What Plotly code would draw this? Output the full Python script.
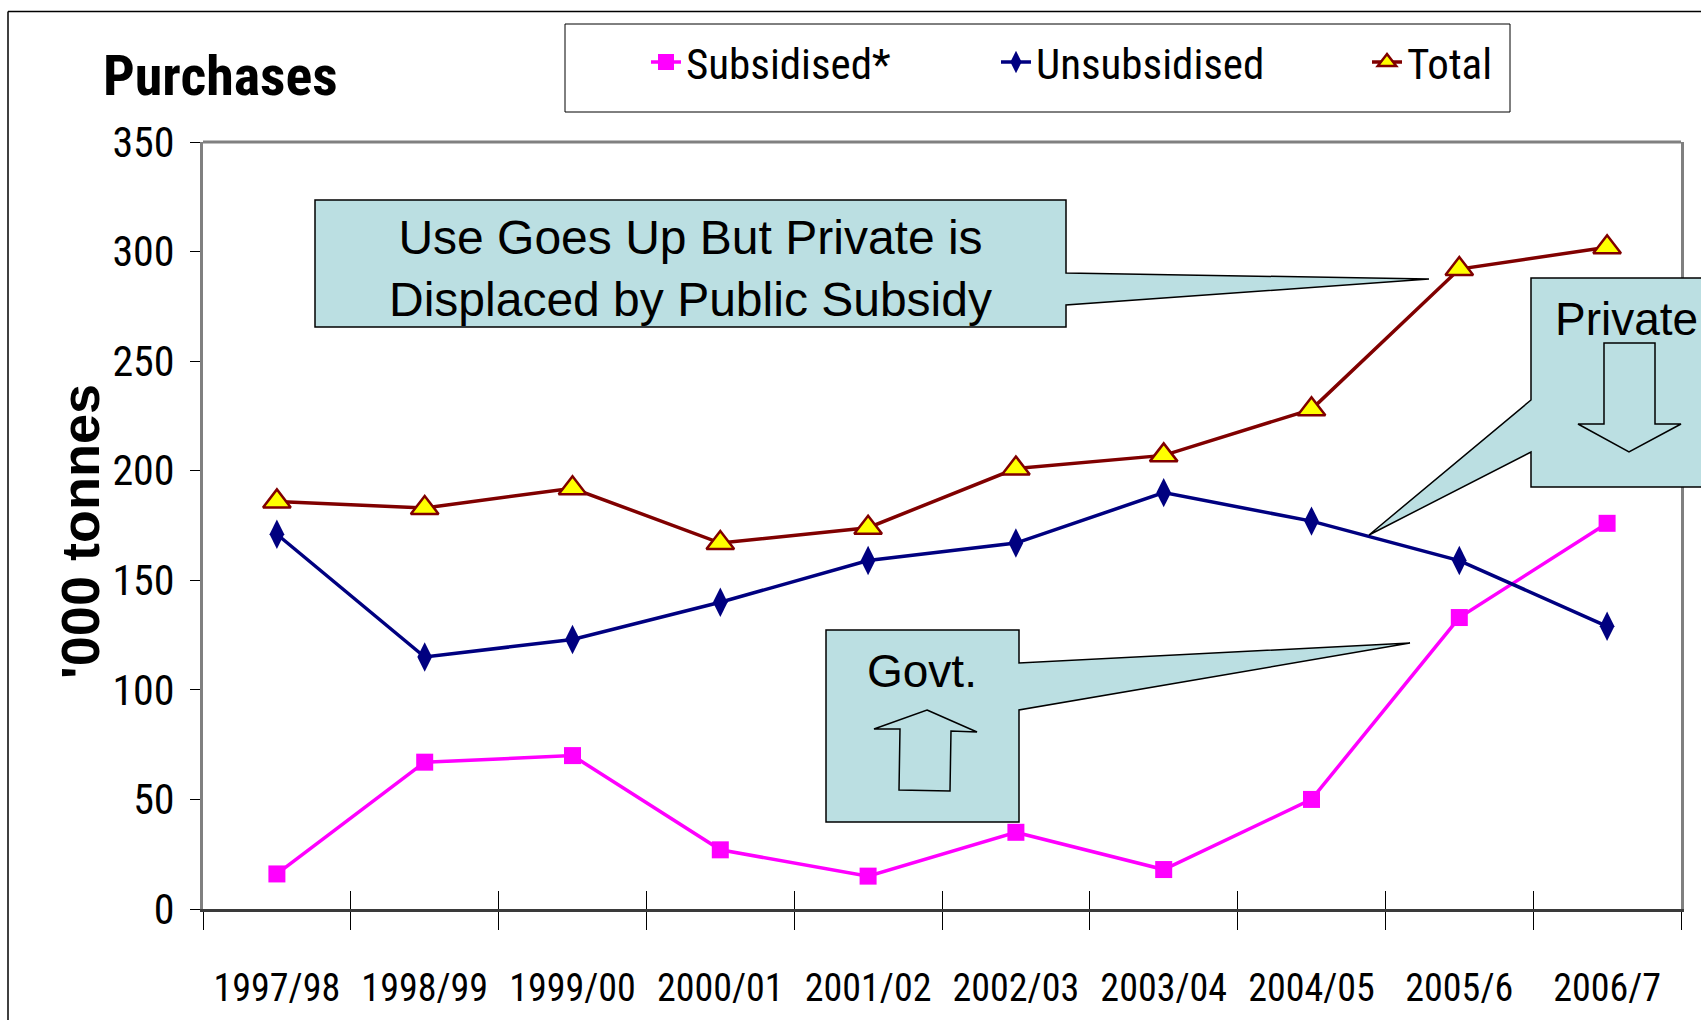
import plotly.graph_objects as go

years = ["1997/98", "1998/99", "1999/00", "2000/01", "2001/02",
         "2002/03", "2003/04", "2004/05", "2005/6", "2006/7"]
subsidised = [16, 67, 70, 27, 15, 35, 18, 50, 133, 176]
unsubsidised = [171, 115, 123, 140, 159, 167, 190, 177, 159, 129]
total = [186, 183, 192, 167, 174, 201, 207, 228, 292, 302]
y_ticks = [0, 50, 100, 150, 200, 250, 300, 350]

W, H = 1701, 1020
L, R, T, B = 203, 1681, 142, 909
NARROW = "Liberation Sans Narrow, Arial Narrow, Roboto Condensed, Liberation Sans, Arial, sans-serif"
REG = "Liberation Sans, Arial, sans-serif"
FILL = "#BBDFE2"


def px(x):
    return (x - L) / (R - L)


def py(y):
    return (B - y) / (B - T)


def path(pts):
    return "M " + " L ".join(f"{px(x):.5f},{py(y):.5f}" for x, y in pts) + " Z"


fig = go.Figure()
fig.add_trace(go.Scatter(
    x=years, y=subsidised, name="Subsidised*", mode="lines+markers", legend="legend",
    line=dict(color="#FF00FF", width=3.5),
    marker=dict(symbol="square", size=17, color="#FF00FF")))
fig.add_trace(go.Scatter(
    x=years, y=unsubsidised, name="Unsubsidised", mode="lines+markers", legend="legend2",
    line=dict(color="#000080", width=3.5),
    marker=dict(symbol="diamond-tall", size=21, color="#000080")))
fig.add_trace(go.Scatter(
    x=years, y=total, name="Total", mode="lines+markers", legend="legend3",
    line=dict(color="#800000", width=3.5),
    marker=dict(symbol="triangle-up", size=24, color="#FFFF00",
                line=dict(color="#800000", width=2.5))))

shapes = []
# outer slide frame (top and left)
shapes.append(dict(type="line", xref="paper", yref="paper",
                   x0=px(8), x1=px(1720), y0=py(11.5), y1=py(11.5),
                   line=dict(color="black", width=1.5)))
shapes.append(dict(type="line", xref="paper", yref="paper",
                   x0=px(8), x1=px(8), y0=py(11.5), y1=py(1030),
                   line=dict(color="black", width=1.5)))
# top frame of the plot
shapes.append(dict(type="line", xref="paper", yref="paper",
                   x0=0, x1=1, y0=1, y1=1, line=dict(color="#808080", width=3)))
# legend box
shapes.append(dict(type="rect", xref="paper", yref="paper",
                   x0=px(565), x1=px(1510), y0=py(24), y1=py(112),
                   line=dict(color="black", width=1), fillcolor="white", layer="below"))
# callout 1
shapes.append(dict(type="path", xref="paper", yref="paper", layer="above",
                   path=path([(315, 200), (1066, 200), (1066, 273), (1429, 279),
                              (1066, 305), (1066, 327), (315, 327)]),
                   fillcolor=FILL, line=dict(color="black", width=1.5)))
# callout 2 (Govt.)
shapes.append(dict(type="path", xref="paper", yref="paper", layer="below",
                   path=path([(826, 630), (1019, 630), (1019, 663), (1410, 643),
                              (1019, 710), (1019, 822), (826, 822)]),
                   fillcolor=FILL, line=dict(color="black", width=1.5)))
shapes.append(dict(type="path", xref="paper", yref="paper", layer="below",
                   path=path([(927, 710), (977, 732), (951, 731), (950, 791),
                              (899, 790), (900, 729), (874, 729)]),
                   fillcolor=FILL, line=dict(color="black", width=1.5)))
# callout 3 (Private)
shapes.append(dict(type="path", xref="paper", yref="paper", layer="above",
                   path=path([(1531, 278), (1730, 278), (1730, 487), (1531, 487),
                              (1531, 452), (1369, 535), (1531, 400)]),
                   fillcolor=FILL, line=dict(color="black", width=1.5)))
shapes.append(dict(type="path", xref="paper", yref="paper", layer="above",
                   path=path([(1604, 343), (1655, 343), (1655, 424), (1681, 424),
                              (1629, 452), (1578, 424), (1604, 424)]),
                   fillcolor=FILL, line=dict(color="black", width=1.5)))

annotations = [
    dict(xref="paper", yref="paper", x=px(690), y=py(268), xanchor="center", yanchor="middle",
         text="Use Goes Up But Private is<br>Displaced by Public Subsidy", showarrow=False,
         font=dict(family=REG, size=48, color="black")),
    dict(xref="paper", yref="paper", x=px(922), y=py(671), xanchor="center", yanchor="middle",
         text="Govt.", showarrow=False, font=dict(family=REG, size=46, color="black")),
    dict(xref="paper", yref="paper", x=px(1553), y=py(319), xanchor="left", yanchor="middle",
         text="Private", showarrow=False, font=dict(family=REG, size=46, color="black")),
    # y-axis title
    dict(xref="paper", yref="paper", x=px(80), y=py(532), xanchor="center", yanchor="middle",
         text="<b>'000 tonnes</b>", textangle=-90, showarrow=False,
         font=dict(family=REG, size=54, color="black")),
]


def leg(xpix):
    return dict(orientation="h", xref="container", yref="container",
                x=xpix / W, xanchor="left", y=1 - 62 / H, yanchor="middle",
                bgcolor="rgba(0,0,0,0)", borderwidth=0,
                font=dict(family=NARROW, size=43, color="black"))


fig.update_layout(
    width=W, height=H,
    margin=dict(l=L, r=W - R, t=T, b=H - B, autoexpand=False),
    paper_bgcolor="white", plot_bgcolor="white",
    font=dict(family=NARROW, color="black"),
    title=dict(text="<b>Purchases</b>", xref="container", yref="container",
               x=103 / W, xanchor="left", y=1 - 75 / H, yanchor="middle",
               font=dict(family=NARROW, size=56, color="black")),
    showlegend=True,
    legend=leg(646),
    legend2=leg(996),
    legend3=leg(1367),
    shapes=shapes,
    annotations=annotations,
    xaxis=dict(type="category", range=[-0.5, 9.5], tickson="boundaries",
               ticks="outside", ticklen=18, tickcolor="black", tickwidth=1,
               showline=True, linecolor="#3a3a3a", linewidth=3,
               showgrid=False, zeroline=False, tickangle=0, automargin=False,
               tickfont=dict(family=NARROW, size=38, color="black"),
               ticklabelstandoff=43),
    xaxis2=dict(overlaying="x", anchor="y", range=[-0.5, 9.5], side="bottom",
                tickmode="array", tickvals=[i - 0.5 for i in range(11)],
                ticks="inside", ticklen=18, tickcolor="black", tickwidth=1,
                showticklabels=False, showgrid=False, showline=False, zeroline=False,
                automargin=False),
    yaxis=dict(range=[0, 350], tickmode="array", tickvals=y_ticks,
               ticks="outside", ticklen=10, tickcolor="black", tickwidth=1,
               showline=True, linecolor="#808080", linewidth=3, mirror=True,
               showgrid=False, zeroline=False, automargin=False,
               tickfont=dict(family=NARROW, size=42, color="black"),
               ticklabelstandoff=7),
)
# invisible trace so xaxis2 is drawn
fig.add_trace(go.Scatter(x=[-0.5, 9.5], y=[None, None], xaxis="x2", yaxis="y",
                         showlegend=False, hoverinfo="skip", mode="lines"))

fig.write_html("out.html", config={"displayModeBar": False},
               post_script="document.body.style.margin='0';document.body.style.overflow='hidden';")
